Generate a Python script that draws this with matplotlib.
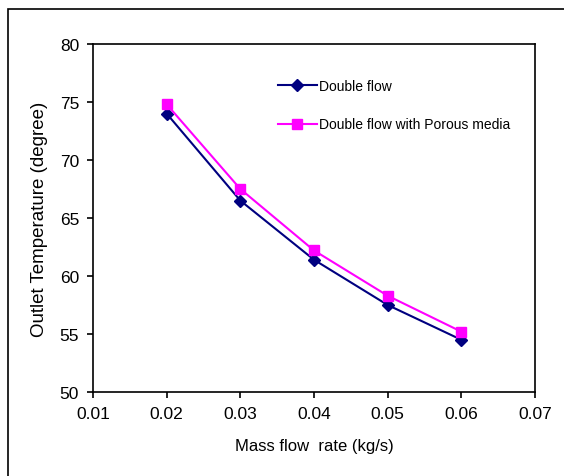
import matplotlib
matplotlib.use('Agg')
import matplotlib.pyplot as plt
from matplotlib.patches import Rectangle

plt.rcParams['font.family'] = ['Liberation Sans', 'DejaVu Sans']

mass_flow = [0.02, 0.03, 0.04, 0.05, 0.06]
double_flow = [74.0, 66.5, 61.4, 57.5, 54.5]
double_porous = [74.8, 67.5, 62.2, 58.3, 55.2]

W, H = 564, 477
fig = plt.figure(figsize=(W/100, H/100), dpi=100)
# outer chart frame (right/bottom cut off)
fig.patches.append(Rectangle((8/W, -0.05), 1.2, 1-10/H+0.05, transform=fig.transFigure,
                             fill=False, edgecolor='black', linewidth=1.2))
ax = fig.add_axes([93/W, 1-393/H, (535-93)/W, (393-45)/H])

ax.plot(mass_flow, double_flow, color='#000080', marker='D', markersize=6,
        linewidth=1.5, label='Double flow')
ax.plot(mass_flow, double_porous, color='#FF00FF', marker='s', markersize=7,
        linewidth=1.5, label='Double flow with Porous media')

ax.set_xlim(0.01, 0.07)
ax.set_ylim(50, 80)
ax.set_xticks([0.01, 0.02, 0.03, 0.04, 0.05, 0.06, 0.07])
ax.set_xticklabels(['0.01', '0.02', '0.03', '0.04', '0.05', '0.06', '0.07'])
ax.set_yticks([50, 55, 60, 65, 70, 75, 80])
ax.tick_params(labelsize=12.5, direction='out', length=4, width=1.2, pad=6)
for s in ax.spines.values():
    s.set_linewidth(1.2)
ax.set_xlabel('Mass flow  rate (kg/s)', fontsize=12, labelpad=12)
ax.set_ylabel('Outlet Temperature (degree)', fontsize=13.5, labelpad=8)

ax.legend(loc='upper left', bbox_to_anchor=(0.39, 0.935), frameon=False, fontsize=10,
          handlelength=2.8, handletextpad=0.15, labelspacing=1.75)

fig.savefig('out.png', dpi=100)
